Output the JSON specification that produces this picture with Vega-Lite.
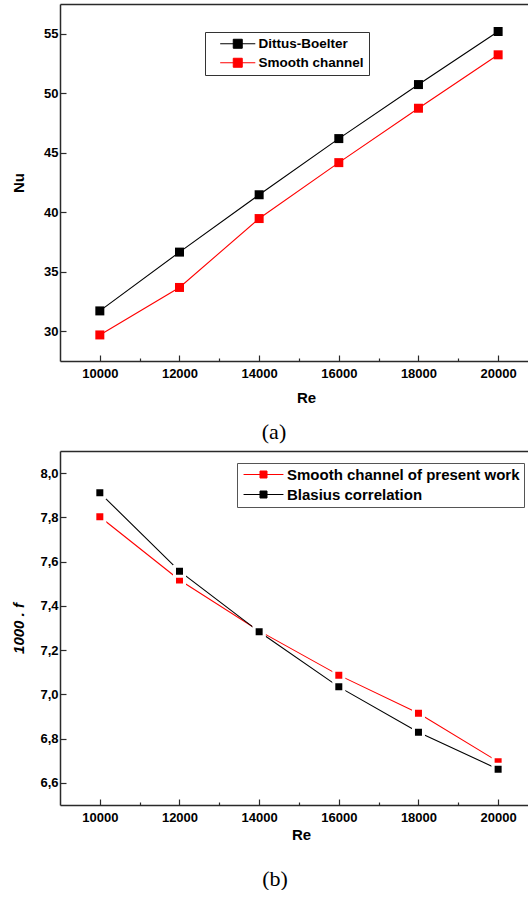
{
  "$schema": "https://vega.github.io/schema/vega-lite/v6.json",
  "background": "white",
  "padding": {"left": 11, "top": 4, "right": 0, "bottom": 0},
  "spacing": 8,
  "resolve": {"scale": {"color": "independent"}, "legend": {"color": "independent"}},
  "config": {
    "view": {"stroke": null},
    "font": "Liberation Sans",
    "axis": {
      "grid": false,
      "labelFont": "Liberation Sans",
      "labelFontWeight": "bold",
      "labelFontSize": 13,
      "labelColor": "#000000",
      "titleFont": "Liberation Sans",
      "titleFontWeight": "bold",
      "titleFontSize": 15,
      "titleColor": "#000000",
      "domainColor": "#2a2a2a",
      "domainWidth": 1.5,
      "tickColor": "#2a2a2a",
      "tickWidth": 1.2,
      "labelOverlap": false,
      "labelFlush": false
    },
    "title": {"font": "Liberation Serif", "fontSize": 22, "fontWeight": "normal", "color": "#000000"}
  },
  "vconcat": [
    {
      "width": 468,
      "height": 357,
      "title": {"text": "(a)", "orient": "bottom", "dx": -20, "offset": 16},
      "data": {"values": [
        {"Re": 10000, "series": "Dittus-Boelter", "Nu": 31.71},
        {"Re": 12000, "series": "Dittus-Boelter", "Nu": 36.65},
        {"Re": 14000, "series": "Dittus-Boelter", "Nu": 41.47},
        {"Re": 16000, "series": "Dittus-Boelter", "Nu": 46.19},
        {"Re": 18000, "series": "Dittus-Boelter", "Nu": 50.73},
        {"Re": 20000, "series": "Dittus-Boelter", "Nu": 55.19},
        {"Re": 10000, "series": "Smooth channel", "Nu": 29.69},
        {"Re": 12000, "series": "Smooth channel", "Nu": 33.68},
        {"Re": 14000, "series": "Smooth channel", "Nu": 39.47},
        {"Re": 16000, "series": "Smooth channel", "Nu": 44.17},
        {"Re": 18000, "series": "Smooth channel", "Nu": 48.74},
        {"Re": 20000, "series": "Smooth channel", "Nu": 53.23}
      ]},
      "resolve": {"axis": {"x": "independent"}},
      "layer": [
        {
          "mark": {"type": "line", "strokeWidth": 1.1, "clip": true},
          "encoding": {
            "x": {"field": "Re", "type": "quantitative",
              "scale": {"domain": [9000, 20750], "nice": false, "zero": false},
              "axis": {"orient": "bottom", "title": "Re", "titleX": 246, "titlePadding": 7,
                "values": [10000, 11000, 12000, 13000, 14000, 15000, 16000, 17000, 18000, 19000, 20000],
                "format": "d",
                "labelExpr": "datum.value % 2000 === 0 ? datum.label : ''",
                "tickSize": {"condition": {"test": "datum.value % 2000 === 0", "value": -6}, "value": -3},
                "labelPadding": 12.5}},
            "y": {"field": "Nu", "type": "quantitative",
              "scale": {"domain": [27.5, 57.5], "nice": false, "zero": false},
              "axis": {"title": "Nu", "titlePadding": 17,
                "values": [30, 32.5, 35, 37.5, 40, 42.5, 45, 47.5, 50, 52.5, 55],
                "format": "d",
                "labelExpr": "datum.value % 5 === 0 ? datum.label : ''",
                "tickSize": {"condition": {"test": "datum.value % 5 === 0", "value": -6}, "value": -3},
                "labelPadding": 8}},
            "color": {"field": "series", "type": "nominal",
              "scale": {"domain": ["Dittus-Boelter", "Smooth channel"], "range": ["#000000", "#ff0000"]},
              "legend": {"orient": "none", "legendX": 145, "legendY": 28, "title": null,
                "strokeColor": "#333333", "fillColor": "#ffffff", "padding": 5, "rowPadding": 4,
                "labelFont": "Liberation Sans", "labelFontWeight": "bold", "labelFontSize": 13.5, "labelColor": "#000000",
                "labelExpr": "datum.label + ' '",
                "symbolType": "M-3.9,0H3.9M-1,-1H1V1H-1Z", "symbolSize": 81, "symbolStrokeWidth": 1,
                "symbolOffset": 21, "labelOffset": 14,
                "encode": {"symbols": {"update": {
                  "fill": {"signal": "datum.value === 'Smooth channel' ? '#ff0000' : '#000000'"},
                  "stroke": {"signal": "datum.value === 'Smooth channel' ? '#ff0000' : '#000000'"},
                  "strokeWidth": {"value": 1},
                  "opacity": {"value": 1}}}}}}
          }
        },
        {
          "mark": {"type": "point", "shape": "square", "filled": true, "size": 81, "opacity": 1, "clip": true},
          "encoding": {
            "x": {"field": "Re", "type": "quantitative",
              "axis": {"orient": "top", "title": null, "labels": false, "ticks": false, "domain": true}},
            "y": {"field": "Nu", "type": "quantitative"},
            "color": {"field": "series", "type": "nominal"}
          }
        }
      ]
    },
    {
      "width": 468,
      "height": 354,
      "title": {"text": "(b)", "orient": "bottom", "dx": -19, "offset": 27},
      "data": {"values": [
        {"Re": 10000, "series": "Smooth channel of present work", "f": 7.803},
        {"Re": 12000, "series": "Smooth channel of present work", "f": 7.517},
        {"Re": 14000, "series": "Smooth channel of present work", "f": 7.287},
        {"Re": 16000, "series": "Smooth channel of present work", "f": 7.087},
        {"Re": 18000, "series": "Smooth channel of present work", "f": 6.915},
        {"Re": 20000, "series": "Smooth channel of present work", "f": 6.696},
        {"Re": 10000, "series": "Blasius correlation", "f": 7.911},
        {"Re": 12000, "series": "Blasius correlation", "f": 7.557},
        {"Re": 14000, "series": "Blasius correlation", "f": 7.283},
        {"Re": 16000, "series": "Blasius correlation", "f": 7.034},
        {"Re": 18000, "series": "Blasius correlation", "f": 6.829},
        {"Re": 20000, "series": "Blasius correlation", "f": 6.662}
      ]},
      "resolve": {"axis": {"x": "independent"}},
      "layer": [
        {
          "mark": {"type": "line", "strokeWidth": 1.1, "clip": true},
          "encoding": {
            "x": {"field": "Re", "type": "quantitative",
              "scale": {"domain": [9000, 20750], "nice": false, "zero": false},
              "axis": {"orient": "bottom", "title": "Re", "titleX": 241, "titlePadding": 0,
                "values": [10000, 11000, 12000, 13000, 14000, 15000, 16000, 17000, 18000, 19000, 20000],
                "format": "d",
                "labelExpr": "datum.value % 2000 === 0 ? datum.label : ''",
                "tickSize": {"condition": {"test": "datum.value % 2000 === 0", "value": -6}, "value": -3},
                "labelPadding": 12}},
            "y": {"field": "f", "type": "quantitative",
              "scale": {"domain": [6.5, 8.1], "nice": false, "zero": false},
              "axis": {"title": "1000 . f", "titleFontStyle": "italic", "titlePadding": 13,
                "values": [6.6, 6.7, 6.8, 6.9, 7.0, 7.1, 7.2, 7.3, 7.4, 7.5, 7.6, 7.7, 7.8, 7.9, 8.0],
                "labelExpr": "round(datum.value * 10) % 2 === 0 ? replace(format(datum.value, '.1f'), '.', ',') : ''",
                "tickSize": {"condition": {"test": "round(datum.value * 10) % 2 === 0", "value": -6}, "value": -3},
                "labelPadding": 8}},
            "color": {"field": "series", "type": "nominal",
              "scale": {"domain": ["Smooth channel of present work", "Blasius correlation"], "range": ["#ff0000", "#000000"]},
              "legend": {"orient": "none", "legendX": 177, "legendY": 12, "title": null,
                "strokeColor": "#555555", "fillColor": "#ffffff", "padding": 4, "rowPadding": 4,
                "labelFont": "Liberation Sans", "labelFontWeight": "bold", "labelFontSize": 15, "labelColor": "#000000",
                "labelLimit": 0,
                "symbolType": "M-5.7,0H5.7M-1,-1H1V1H-1Z", "symbolSize": 49, "symbolStrokeWidth": 1,
                "symbolOffset": 15, "labelOffset": 16,
                "encode": {"symbols": {"update": {
                  "fill": {"signal": "datum.value === 'Blasius correlation' ? '#000000' : '#ff0000'"},
                  "stroke": {"signal": "datum.value === 'Blasius correlation' ? '#000000' : '#ff0000'"},
                  "strokeWidth": {"value": 1},
                  "opacity": {"value": 1}}}}}}
          }
        },
        {
          "mark": {"type": "point", "shape": "square", "filled": true, "size": 100, "opacity": 1, "stroke": "#ffffff", "strokeWidth": 3, "strokeOpacity": 1, "clip": true},
          "encoding": {
            "x": {"field": "Re", "type": "quantitative",
              "axis": {"orient": "top", "title": null, "labels": false, "ticks": false, "domain": true}},
            "y": {"field": "f", "type": "quantitative"},
            "color": {"field": "series", "type": "nominal"}
          }
        }
      ]
    }
  ]
}
